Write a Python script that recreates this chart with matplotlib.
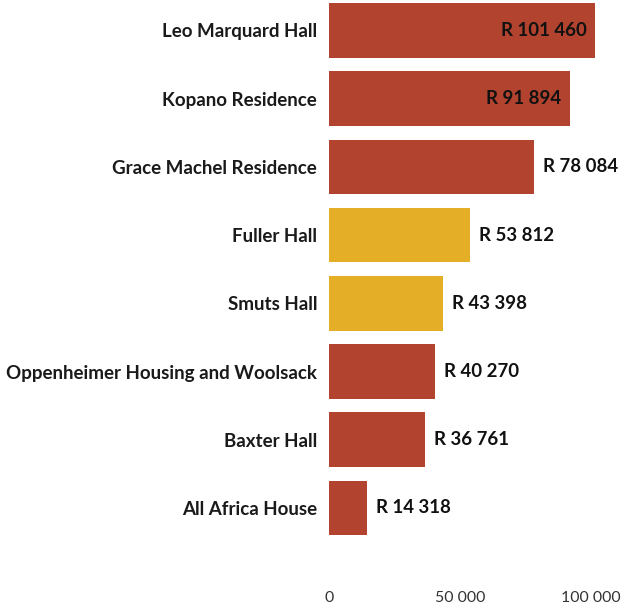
import matplotlib
matplotlib.use("Agg")
import matplotlib.pyplot as plt

residences = [
    "Leo Marquard Hall",
    "Kopano Residence",
    "Grace Machel Residence",
    "Fuller Hall",
    "Smuts Hall",
    "Oppenheimer Housing and Woolsack",
    "Baxter Hall",
    "All Africa House",
]
amounts = [101460, 91894, 78084, 53812, 43398, 40270, 36761, 14318]
highlight = [False, False, False, True, True, False, False, False]
tick_values = [0, 50000, 100000]

RED = "#B2432E"
GOLD = "#E4AF27"

plt.rcParams["font.family"] = ["Lato", "DejaVu Sans"]


def fmt(v):
    return f"{v:,}".replace(",", " ")


fig = plt.figure(figsize=(6.22, 6.07), dpi=100)
ax = fig.add_axes([329 / 622, 27 / 607, 1 - 329 / 622, 580 / 607])

ypos = list(range(len(residences)))
colors = [GOLD if h else RED for h in highlight]
ax.barh(ypos, amounts, height=0.8, color=colors, edgecolor="none")

ax.set_xlim(0, 111745)
ax.set_ylim((580 - 30.5) / 68.2, -30.5 / 68.2)

ax.set_yticks(ypos)
ax.set_yticklabels(residences, fontsize=13.5, fontweight="bold", color="#1a1a1a")
ax.tick_params(axis="y", length=0, pad=8.5)

ax.set_xticks(tick_values)
ax.set_xticklabels([fmt(v) for v in tick_values], fontsize=11.4, color="#333333")
ax.tick_params(axis="x", length=0, pad=8)

for s in ax.spines.values():
    s.set_visible(False)

for y, v in zip(ypos, amounts):
    label = "R " + fmt(v)
    if v > 80000:
        ax.annotate(label, (v, y), xytext=(-6, 0), textcoords="offset points",
                    ha="right", va="center", fontsize=13.4, fontweight="bold", color="#111111")
    else:
        ax.annotate(label, (v, y), xytext=(6.5, 0), textcoords="offset points",
                    ha="left", va="center", fontsize=13.4, fontweight="bold", color="#111111")

fig.savefig("out.png", dpi=100)
